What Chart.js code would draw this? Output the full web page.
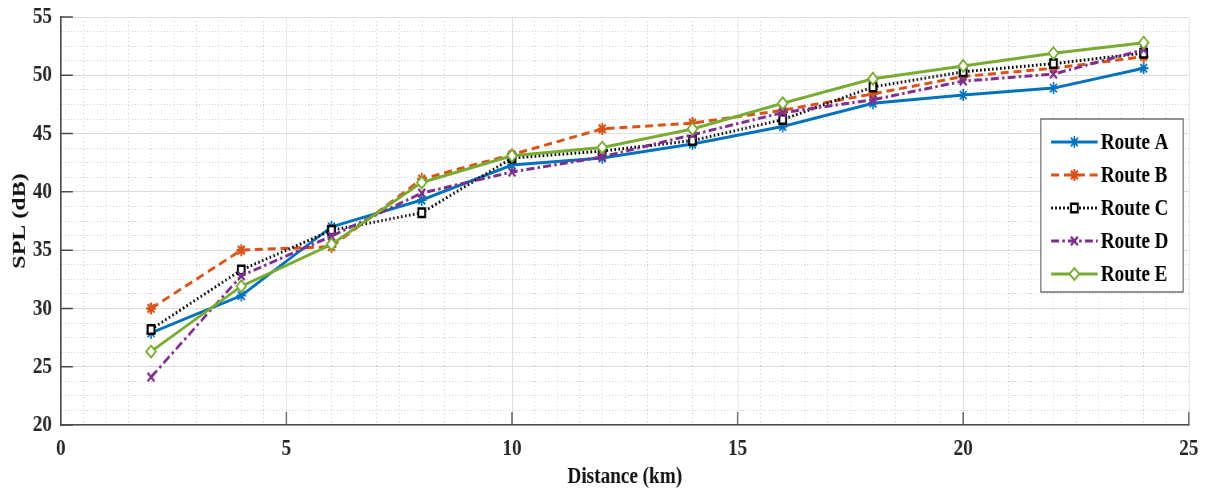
<!DOCTYPE html>
<html>
<head>
<meta charset="utf-8">
<script src="https://cdn.jsdelivr.net/npm/chart.js"></script>
<style>
  html, body { margin: 0; padding: 0; overflow: hidden; background: #fff; }
  /* figure is drawn wide and squeezed to keep the tall narrow lettering */
  #wrap { width: 1507px; height: 491px; transform: scaleX(0.8); transform-origin: 0 0; }
</style>
</head>
<body>
<div id="wrap"><canvas id="chart" width="1507" height="491"></canvas></div>
<script>
'use strict';

// Distance along each route (km)
const DISTANCE = [2, 4, 6, 8, 10, 12, 14, 16, 18, 20, 22, 24];

// Sound pressure level per route (dB)
const ROUTE_A = [27.9, 31.1, 37.0, 39.3, 42.3, 42.9, 44.1, 45.6, 47.6, 48.3, 48.9, 50.6];
const ROUTE_B = [30.0, 35.0, 35.3, 41.1, 43.2, 45.4, 45.9, 47.0, 48.4, 49.9, 50.6, 51.6];
const ROUTE_C = [28.2, 33.3, 36.7, 38.2, 42.9, 43.5, 44.4, 46.2, 49.0, 50.3, 51.0, 51.9];
const ROUTE_D = [24.1, 32.8, 36.2, 39.9, 41.7, 43.0, 44.9, 46.8, 47.9, 49.5, 50.1, 52.2];
const ROUTE_E = [26.3, 31.9, 35.5, 40.8, 43.1, 43.8, 45.4, 47.6, 49.7, 50.8, 51.9, 52.8];

const ROUTE_NAMES = ['Route A', 'Route B', 'Route C', 'Route D', 'Route E'];

// Axis ranges and tick spacing
const X_MIN = 0, X_MAX = 25, X_MINOR = 0.5;
const Y_MIN = 20, Y_MAX = 55, Y_MINOR = 1.25;
const MAJOR = 5;

const GRID_MAJOR = '#dcdcdc';
const GRID_MINOR = '#c4c4c4';
const AXIS_COL   = '#4a4a4a';
const SERIF = "'Liberation Serif', 'Times New Roman', serif";

Chart.defaults.font.family = SERIF;
Chart.defaults.font.weight = 'bold';
Chart.defaults.color = '#222';

const isMajor = (v) => Math.abs(v / MAJOR - Math.round(v / MAJOR)) < 1e-6;

const STYLES = [
  { color: '#0072BD', dash: [],             point: 'star',     bg: '#0072BD', pw: 2 },
  { color: '#D95319', dash: [10, 6],        point: 'star',     bg: '#D95319', pw: 2.5 },
  { color: '#000000', dash: [2, 3],         point: 'rect',     bg: '#ffffff', pw: 2.5 },
  { color: '#7E2F8E', dash: [10, 4, 3, 4],  point: 'crossRot', bg: '#7E2F8E', pw: 2.5 },
  { color: '#77AC30', dash: [],             point: 'rectRot',  bg: '#ffffff', pw: 2 },
];

const series = [ROUTE_A, ROUTE_B, ROUTE_C, ROUTE_D, ROUTE_E];

const datasets = series.map((vals, i) => ({
  label: ROUTE_NAMES[i],
  data: DISTANCE.map((d, k) => ({ x: d, y: vals[k] })),
  borderColor: STYLES[i].color,
  borderWidth: 3,
  borderDash: STYLES[i].dash,
  pointStyle: STYLES[i].point,
  pointRadius: 6,
  pointBorderWidth: STYLES[i].pw,
  pointBorderColor: STYLES[i].color,
  pointBackgroundColor: STYLES[i].bg,
  showLine: true,
  fill: false,
  tension: 0,
  order: series.length - i,
}));

// Legend box inside the plot, upper right
const boxLegend = {
  id: 'boxLegend',
  afterDatasetsDraw(chart) {
    const { ctx, chartArea } = chart;
    const w = 178, h = 173, row = 33;
    const left = chartArea.right - 7 - w;
    const top = chartArea.top + 102;
    ctx.save();
    ctx.fillStyle = '#fff';
    ctx.fillRect(left, top, w, h);
    ctx.strokeStyle = AXIS_COL;
    ctx.lineWidth = 1.2;
    ctx.strokeRect(left, top, w, h);
    chart.data.datasets.forEach((ds, i) => {
      const y = top + 23 + i * row;
      const x1 = left + 13, x2 = left + 71;
      ctx.strokeStyle = ds.borderColor;
      ctx.lineWidth = 3;
      ctx.setLineDash(ds.borderDash);
      ctx.beginPath();
      ctx.moveTo(x1, y);
      ctx.lineTo(x2, y);
      ctx.stroke();
      ctx.setLineDash([]);
      ctx.fillStyle = ds.pointBackgroundColor;
      ctx.strokeStyle = ds.pointBorderColor;
      ctx.lineWidth = ds.pointBorderWidth;
      Chart.helpers.drawPoint(ctx, {
        pointStyle: ds.pointStyle, radius: ds.pointRadius, rotation: 0,
        borderWidth: ds.pointBorderWidth,
      }, (x1 + x2) / 2, y);
      ctx.fillStyle = '#000';
      ctx.font = 'bold 24px ' + SERIF;
      ctx.textBaseline = 'middle';
      ctx.textAlign = 'left';
      ctx.fillText(ds.label, left + 75, y + 1);
    });
    ctx.restore();
  },
};

// Short inward tick marks on the left and bottom axes
const innerTicks = {
  id: 'innerTicks',
  afterDraw(chart) {
    const { ctx, chartArea, scales } = chart;
    ctx.save();
    ctx.strokeStyle = AXIS_COL;
    ctx.lineWidth = 1.5;
    ctx.beginPath();
    scales.x.ticks.filter(t => isMajor(t.value)).forEach(t => {
      const px = scales.x.getPixelForValue(t.value);
      ctx.moveTo(px, chartArea.bottom);
      ctx.lineTo(px, chartArea.bottom - 13);
    });
    scales.y.ticks.filter(t => isMajor(t.value)).forEach(t => {
      const py = scales.y.getPixelForValue(t.value);
      ctx.moveTo(chartArea.left, py);
      ctx.lineTo(chartArea.left + 15, py);
    });
    ctx.stroke();
    ctx.restore();
  },
};

const gridColor = (c) => (c.tick && isMajor(c.tick.value)) ? GRID_MAJOR : GRID_MINOR;
const gridDash = (c) => (c.tick && !isMajor(c.tick.value)) ? [1, 3] : [];

new Chart(document.getElementById('chart'), {
  type: 'scatter',
  data: { datasets },
  options: {
    responsive: false,
    animation: false,
    events: [],
    layout: { padding: { top: 17, right: 21, left: 0, bottom: 0 } },
    plugins: { legend: { display: false }, tooltip: { enabled: false } },
    scales: {
      x: {
        type: 'linear', min: X_MIN, max: X_MAX,
        afterFit: (s) => { s.height = 66; s.paddingLeft = 0; s.paddingRight = 0; },
        afterBuildTicks: (s) => {
          s.ticks = [];
          for (let v = X_MIN; v <= X_MAX + 1e-9; v += X_MINOR) s.ticks.push({ value: v });
        },
        ticks: {
          autoSkip: false, maxRotation: 0, padding: 9,
          font: { size: 24, weight: 'bold' }, color: '#262626',
          callback: (v) => isMajor(v) ? String(Math.round(v)) : '',
        },
        grid: { color: gridColor, lineWidth: 1, drawTicks: false },
        border: { display: true, color: AXIS_COL, width: 1.5, dash: gridDash },
        title: {
          display: true, text: 'Distance (km)', color: '#111',
          font: { size: 24, weight: 'bold', lineHeight: 1 },
          padding: { top: 0, bottom: 2 },
        },
      },
      y: {
        type: 'linear', min: Y_MIN, max: Y_MAX,
        afterFit: (s) => { s.width = 76; s.paddingTop = 0; s.paddingBottom = 0; },
        afterBuildTicks: (s) => {
          s.ticks = [];
          for (let v = Y_MIN; v <= Y_MAX + 1e-9; v += Y_MINOR) s.ticks.push({ value: v });
        },
        ticks: {
          autoSkip: false, padding: 11,
          font: { size: 24, weight: 'bold' }, color: '#262626',
          callback: (v) => isMajor(v) ? String(Math.round(v)) : '',
        },
        grid: { color: gridColor, lineWidth: 1, drawTicks: false },
        border: { display: true, color: AXIS_COL, width: 2, dash: gridDash },
        title: {
          display: true, text: 'SPL (dB)', color: '#111',
          font: { size: 24, weight: 'bold', lineHeight: 1 },
          padding: { top: 13, bottom: 0 },
        },
      },
    },
  },
  plugins: [boxLegend, innerTicks],
});
</script>
</body>
</html>
